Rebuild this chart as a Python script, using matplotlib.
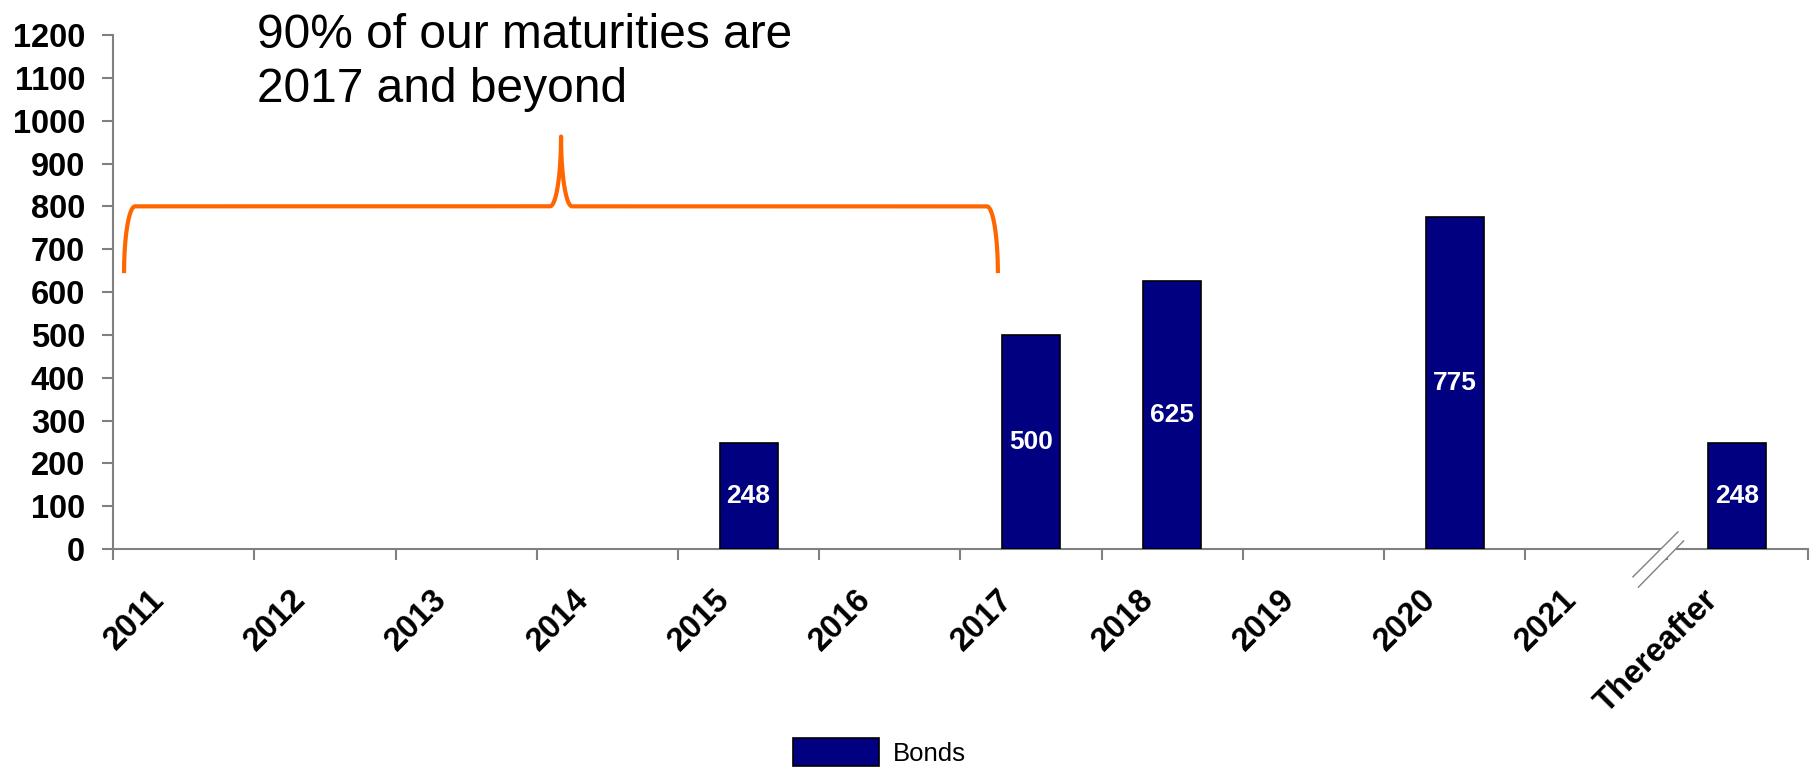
import numpy as np
import matplotlib
matplotlib.use("Agg")
import matplotlib.pyplot as plt
from matplotlib.transforms import ScaledTranslation

plt.rcParams['font.family'] = ['Liberation Sans', 'DejaVu Sans']

# data
categories = ['2011', '2012', '2013', '2014', '2015', '2016', '2017',
              '2018', '2019', '2020', '2021', 'Thereafter']
bonds = [0, 0, 0, 0, 248, 0, 500, 625, 0, 775, 0, 248]
yticks = list(range(0, 1300, 100))
note = "90% of our maturities are\n2017 and beyond"

navy = '#000080'
orange = '#FF6600'
grey = '#808080'

fig = plt.figure(figsize=(18.17, 7.71), dpi=100)
ax = fig.add_axes([0.0622, 0.2879, 0.9328, 0.6667])

x = np.arange(len(categories))
vals = np.array(bonds, dtype=float)
keep = vals > 0
bars = ax.bar(x[keep], vals[keep], width=0.41, color=navy,
              edgecolor='black', linewidth=1.2, zorder=3)
ax.bar_label(bars, labels=[str(int(v)) for v in vals[keep]], label_type='center',
             color='white', fontweight='bold', fontsize=19)

ax.set_xlim(-0.5, len(categories) - 0.5)
ax.set_ylim(0, 1200)

# axes styling
for s in ['top', 'right']:
    ax.spines[s].set_visible(False)
for s in ['left', 'bottom']:
    ax.spines[s].set_color(grey)
    ax.spines[s].set_linewidth(1.5)

ax.set_yticks(yticks)
ax.set_yticklabels([str(v) for v in yticks], fontweight='bold', fontsize=23.5)
ax.tick_params(axis='y', length=8, width=1.5, color=grey, pad=12)

ax.set_xticks(x)
ax.set_xticklabels(categories, fontweight='bold', fontsize=23.5,
                   rotation=45, ha='right', va='center', rotation_mode='anchor')
ax.set_xticks(np.arange(len(categories) + 1) - 0.5, minor=True)
ax.tick_params(axis='x', which='major', length=0, pad=33)
ax.tick_params(axis='x', which='minor', length=8, width=1.5, color=grey)
off = ScaledTranslation(-17 / 72, 0, fig.dpi_scale_trans)
for lab in ax.get_xticklabels():
    lab.set_transform(lab.get_transform() + off)

# curly brace over 2011-2017
x0, x1, xm = -0.422, 5.765, 2.672
ylow, ymid, ytip = 644, 800, 963
b = 0.078
t = np.linspace(0, np.pi / 2, 40)
left_x = x0 + b - b * np.cos(t)
left_y = ylow + (ymid - ylow) * np.sin(t)
tipL_x = xm - b + b * np.sin(t)
tipL_y = ytip - (ytip - ymid) * np.cos(t)
tipR_x = xm + b - b * np.sin(t[::-1])
tipR_y = ytip - (ytip - ymid) * np.cos(t[::-1])
right_x = x1 - b + b * np.cos(t[::-1])
right_y = ylow + (ymid - ylow) * np.sin(t[::-1])
bx = np.concatenate([left_x, tipL_x, tipR_x, right_x])
by = np.concatenate([left_y, tipL_y, tipR_y, right_y])
ax.plot(bx, by, color=orange, lw=3, solid_capstyle='butt', zorder=4, clip_on=False)

# axis break marks before "Thereafter"
brk1 = ([10.261, 10.58], [-65, 40])
brk2 = ([10.30, 10.62], [-89, 19])
ax.fill([brk1[0][0], brk1[0][1], brk2[0][1], brk2[0][0]],
        [brk1[1][0], brk1[1][1], brk2[1][1], brk2[1][0]],
        color='white', zorder=5, clip_on=False, lw=0)
ax.plot(*brk1, color=grey, lw=1, zorder=6, clip_on=False)
ax.plot(*brk2, color=grey, lw=1, zorder=6, clip_on=False)

fig.text(257 / 1817, 1 - 102 / 771, note, fontsize=34.5, va='baseline',
         ha='left', linespacing=1.26)

fig.legend([bars], ['Bonds'], loc='upper left',
           bbox_to_anchor=(793 / 1817, 1 - 738 / 771), frameon=False,
           fontsize=18.5, handlelength=3.35, handleheight=1.3,
           handletextpad=0.55, borderpad=0, borderaxespad=0)

fig.savefig('out.png', dpi=100)
